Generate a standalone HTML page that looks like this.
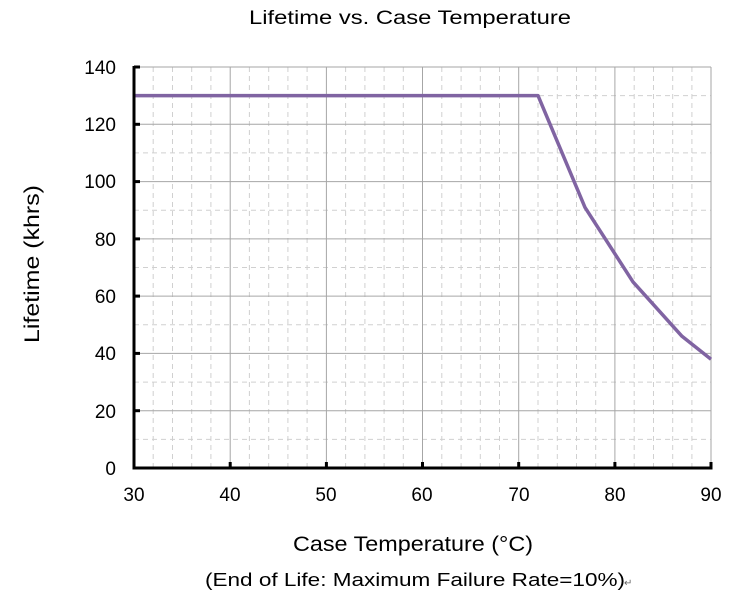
<!DOCTYPE html>
<html><head><style>body{margin:0;background:#fff}svg{display:block}</style></head>
<body>
<svg width="756" height="599" xmlns="http://www.w3.org/2000/svg" font-family="Liberation Sans, sans-serif">
<rect width="756" height="599" fill="#fff"/>
<g stroke="#d0d0d0" stroke-width="1" stroke-dasharray="5,4">
<line x1="153.2" y1="67" x2="153.2" y2="468"/><line x1="172.5" y1="67" x2="172.5" y2="468"/><line x1="191.7" y1="67" x2="191.7" y2="468"/><line x1="210.9" y1="67" x2="210.9" y2="468"/>
<line x1="249.4" y1="67" x2="249.4" y2="468"/><line x1="268.7" y1="67" x2="268.7" y2="468"/><line x1="287.9" y1="67" x2="287.9" y2="468"/><line x1="307.1" y1="67" x2="307.1" y2="468"/>
<line x1="345.6" y1="67" x2="345.6" y2="468"/><line x1="364.9" y1="67" x2="364.9" y2="468"/><line x1="384.1" y1="67" x2="384.1" y2="468"/><line x1="403.3" y1="67" x2="403.3" y2="468"/>
<line x1="441.8" y1="67" x2="441.8" y2="468"/><line x1="461.1" y1="67" x2="461.1" y2="468"/><line x1="480.3" y1="67" x2="480.3" y2="468"/><line x1="499.5" y1="67" x2="499.5" y2="468"/>
<line x1="538" y1="67" x2="538" y2="468"/><line x1="557.3" y1="67" x2="557.3" y2="468"/><line x1="576.5" y1="67" x2="576.5" y2="468"/><line x1="595.7" y1="67" x2="595.7" y2="468"/>
<line x1="634.2" y1="67" x2="634.2" y2="468"/><line x1="653.5" y1="67" x2="653.5" y2="468"/><line x1="672.7" y1="67" x2="672.7" y2="468"/><line x1="691.9" y1="67" x2="691.9" y2="468"/>
<line x1="134" y1="439.4" x2="711" y2="439.4"/><line x1="134" y1="382.1" x2="711" y2="382.1"/><line x1="134" y1="324.8" x2="711" y2="324.8"/><line x1="134" y1="267.5" x2="711" y2="267.5"/><line x1="134" y1="210.2" x2="711" y2="210.2"/><line x1="134" y1="152.9" x2="711" y2="152.9"/><line x1="134" y1="95.6" x2="711" y2="95.6"/>
</g>
<g stroke="#a6a6a6" stroke-width="1">
<line x1="230.2" y1="67" x2="230.2" y2="468"/><line x1="326.4" y1="67" x2="326.4" y2="468"/><line x1="422.5" y1="67" x2="422.5" y2="468"/><line x1="518.7" y1="67" x2="518.7" y2="468"/><line x1="614.9" y1="67" x2="614.9" y2="468"/><line x1="711" y1="67" x2="711" y2="468"/>
<line x1="134" y1="410.7" x2="711" y2="410.7"/><line x1="134" y1="353.4" x2="711" y2="353.4"/><line x1="134" y1="296.1" x2="711" y2="296.1"/><line x1="134" y1="238.9" x2="711" y2="238.9"/><line x1="134" y1="181.6" x2="711" y2="181.6"/><line x1="134" y1="124.3" x2="711" y2="124.3"/><line x1="134" y1="67" x2="711" y2="67"/>
</g>
<polyline points="134,95.6 538,95.6 585,207.4 633,281.9 682,336.3 711,359.2" fill="none" stroke="#8064a2" stroke-width="3.5" stroke-linejoin="round"/>
<g stroke="#000" stroke-width="3">
<line x1="134" y1="66" x2="134" y2="469.5"/><line x1="132.5" y1="468" x2="712.5" y2="468"/>
<line x1="134" y1="67" x2="140" y2="67"/><line x1="134" y1="124.3" x2="140" y2="124.3"/><line x1="134" y1="181.6" x2="140" y2="181.6"/><line x1="134" y1="238.9" x2="140" y2="238.9"/><line x1="134" y1="296.1" x2="140" y2="296.1"/><line x1="134" y1="353.4" x2="140" y2="353.4"/><line x1="134" y1="410.7" x2="140" y2="410.7"/>
<line x1="230.2" y1="468" x2="230.2" y2="462"/><line x1="326.4" y1="468" x2="326.4" y2="462"/><line x1="422.5" y1="468" x2="422.5" y2="462"/><line x1="518.7" y1="468" x2="518.7" y2="462"/><line x1="614.9" y1="468" x2="614.9" y2="462"/><line x1="711" y1="468" x2="711" y2="462"/>
</g>
<g font-size="19" fill="#000" text-anchor="end">
<text x="116" y="74">140</text><text x="116" y="131">120</text><text x="116" y="188">100</text><text x="116" y="246">80</text><text x="116" y="303">60</text><text x="116" y="360">40</text><text x="116" y="418">20</text><text x="116" y="475">0</text>
</g>
<g font-size="19" fill="#000" text-anchor="middle">
<text x="134" y="501">30</text><text x="230" y="501">40</text><text x="326" y="501">50</text><text x="422" y="501">60</text><text x="519" y="501">70</text><text x="615" y="501">80</text><text x="711" y="501">90</text>
</g>
<text x="410" y="24" font-size="19" text-anchor="middle" textLength="322" lengthAdjust="spacingAndGlyphs">Lifetime vs. Case Temperature</text>
<text x="413" y="551" font-size="21" text-anchor="middle" textLength="240" lengthAdjust="spacingAndGlyphs">Case Temperature (°C)</text>
<text transform="translate(39,264) rotate(-90)" font-size="21" text-anchor="middle" textLength="158" lengthAdjust="spacingAndGlyphs">Lifetime (khrs)</text>
<text x="205" y="586" font-size="18" textLength="420" lengthAdjust="spacingAndGlyphs">(End of Life: Maximum Failure Rate=10%)</text>
<text x="624" y="586" font-size="10" fill="#666">↵</text>
</svg>
</body></html>
